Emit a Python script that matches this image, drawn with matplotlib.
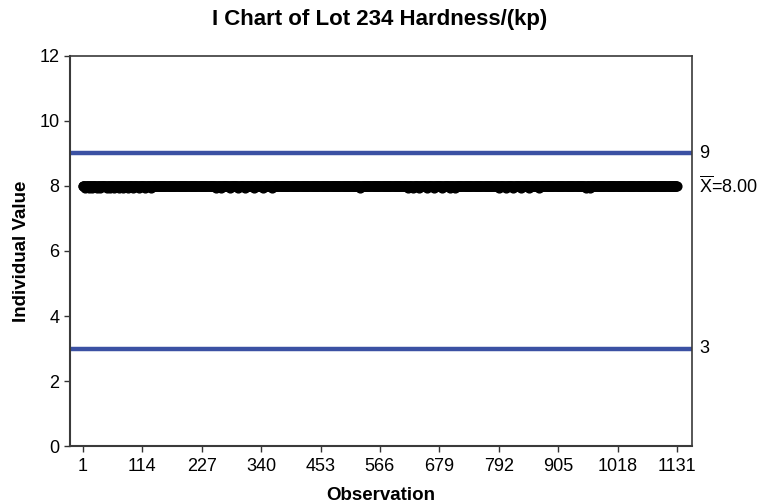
import matplotlib
matplotlib.use("Agg")
import matplotlib.pyplot as plt

plt.rcParams["font.family"] = ["Liberation Sans", "DejaVu Sans"]
plt.rcParams["mathtext.fontset"] = "custom"
plt.rcParams["mathtext.rm"] = "Liberation Sans"

# observations 1..1131, nearly all at 8.0 kp
n_obs = 1131
low_value = 7.93
low_obs = [
    6, 12, 19, 27, 34, 46, 53, 61, 70, 78, 86, 97, 108, 120, 131,
    255, 263, 281, 296, 310, 327, 344, 360,
    528,
    620, 628, 641, 655, 668, 684, 699, 709,
    792, 806, 820, 834, 850, 868,
    958, 966,
]
observations = list(range(1, n_obs + 1))
values = [low_value if obs in low_obs else 8.0 for obs in observations]

upper_limit = 9
lower_limit = 3
mean_value = sum(values) / len(values)

x_ticks = list(range(1, n_obs + 1, 113))
y_ticks = [0, 2, 4, 6, 8, 10, 12]

fig = plt.figure(figsize=(7.59, 5.03), dpi=100)
ax = fig.add_axes([0.0922, 0.1133, 0.8195, 0.7754])

ax.axhline(upper_limit, color="#3b51a3", linewidth=3.2, zorder=2)
ax.axhline(lower_limit, color="#3b51a3", linewidth=3.2, zorder=2)

ax.plot(
    observations,
    values,
    color="black",
    linewidth=1,
    marker="o",
    markersize=6.3,
    zorder=3
)

ax.set_xlim(-23.5, 1159.5)
ax.set_ylim(0, 12)
ax.set_xticks(x_ticks)
ax.set_yticks(y_ticks)

ax.tick_params(axis="both", direction="out", length=4.5, width=1,
               labelsize=13, color="#333333", pad=3)
ax.tick_params(axis="x", pad=4)

for side in ["left", "bottom"]:
    ax.spines[side].set_linewidth(1.5)
    ax.spines[side].set_color("#3a3a3a")
for side in ["right", "top"]:
    ax.spines[side].set_linewidth(1.2)
    ax.spines[side].set_color("#3a3a3a")

label_tf = ax.get_yaxis_transform()
ax.text(1.012, upper_limit, "9", transform=label_tf,
        fontsize=13, va="center", ha="left")
ax.text(1.012, mean_value, r"$\overline{\mathrm{X}}$=8.00", transform=label_tf,
        fontsize=13, va="center", ha="left")
ax.text(1.012, lower_limit, "3", transform=label_tf,
        fontsize=13, va="center", ha="left")

ax.set_xlabel("Observation", fontsize=13.5, fontweight="bold", labelpad=9)
ax.set_ylabel("Individual Value", fontsize=13.5, fontweight="bold", labelpad=7)
fig.suptitle("I Chart of Lot 234 Hardness/(kp)", fontsize=16,
             fontweight="bold", x=0.5, y=0.982)

fig.savefig("out.png", dpi=100)
